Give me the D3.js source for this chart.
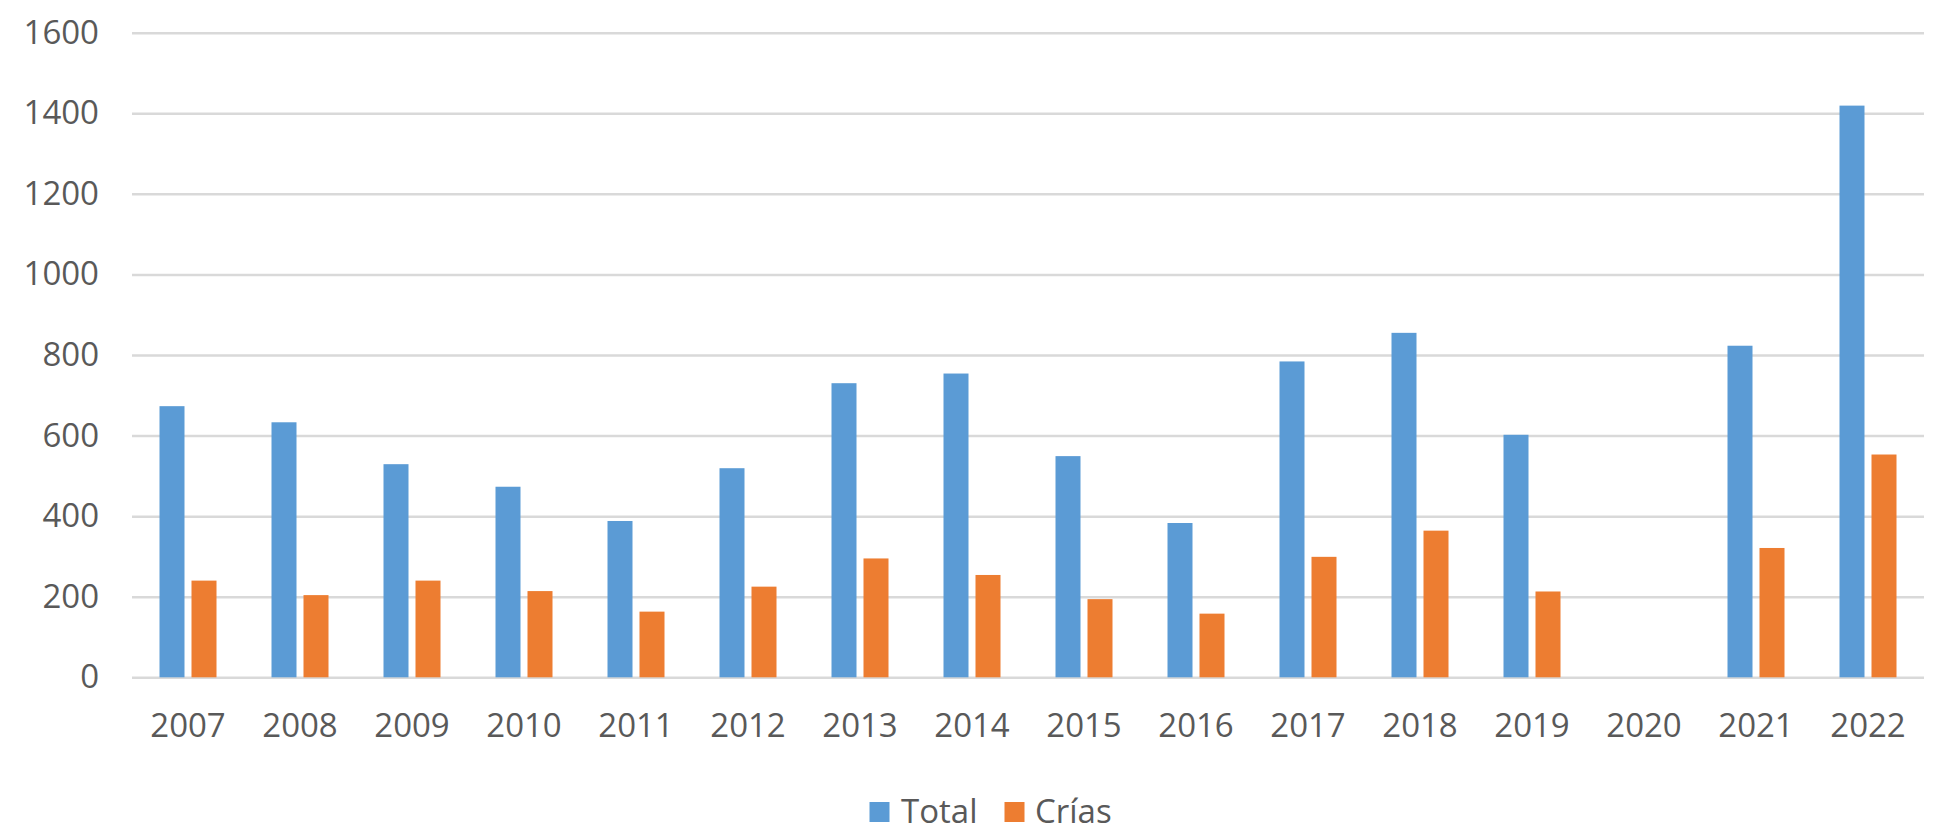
<!DOCTYPE html>
<html>
<head>
<meta charset="utf-8">
<script src="https://cdn.jsdelivr.net/npm/d3@7"></script>
<style>
  html, body { margin: 0; padding: 0; background: #ffffff; }
  svg { display: block; }
  text { font-family: "Open Sans", "Liberation Sans", sans-serif; fill: #595959; }
</style>
</head>
<body>
<svg id="chart" width="1934" height="833"></svg>
<script>
const categories = ["2007","2008","2009","2010","2011","2012","2013","2014","2015","2016","2017","2018","2019","2020","2021","2022"];
const totalValues = [673, 633, 529, 473, 388, 519, 730, 754, 549, 383, 784, 855, 602, 0, 823, 1419];
const criasValues = [240, 204, 240, 214, 163, 225, 295, 254, 194, 158, 299, 364, 213, 0, 321, 553];
const seriesNames = ["Total", "Crías"];
const seriesColors = ["#5B9BD5", "#ED7D31"];
const yTicks = [0, 200, 400, 600, 800, 1000, 1200, 1400, 1600];

const svg = d3.select("#chart");
const plot = { left: 132, right: 1924, top: 32.7, bottom: 677.3 };

const y = d3.scaleLinear().domain([0, 1600]).range([plot.bottom, plot.top]);
const x0 = d3.scaleBand().domain(categories).range([plot.left, plot.right]).paddingInner(0).paddingOuter(0);
const x1 = d3.scaleBand().domain(seriesNames).range([27.5, 84.5]).paddingInner(7/32).paddingOuter(0);

// gridlines + y labels
const yAxis = d3.axisLeft(y).tickValues(yTicks).tickFormat(d3.format("d"))
  .tickSize(-(plot.right - plot.left)).tickPadding(33);
const gy = svg.append("g").attr("transform", `translate(${plot.left},0)`).call(yAxis);
gy.select(".domain").remove();
gy.selectAll(".tick line").attr("stroke", "#d9d9d9").attr("stroke-width", 2.5);
gy.selectAll(".tick text").attr("font-size", 33).attr("fill", "#595959")
  .style("font-family", '"Open Sans", sans-serif');

// bars
const data = categories.map((c, i) => ({ cat: c, vals: [totalValues[i], criasValues[i]] }));
const groups = svg.append("g").selectAll("g").data(data).join("g")
  .attr("transform", d => `translate(${x0(d.cat)},0)`);
groups.selectAll("rect").data(d => d.vals.map((v, j) => ({ name: seriesNames[j], v, j })))
  .join("rect")
  .attr("x", d => x1(d.name))
  .attr("width", x1.bandwidth())
  .attr("y", d => y(d.v))
  .attr("height", d => y(0) - y(d.v))
  .attr("fill", d => seriesColors[d.j]);

// x axis labels
const xAxis = d3.axisBottom(x0).tickSize(0).tickPadding(36);
const gx = svg.append("g").attr("transform", `translate(0,${plot.bottom})`).call(xAxis);
gx.select(".domain").remove();
gx.selectAll(".tick text").attr("font-size", 33).attr("fill", "#595959")
  .style("font-family", '"Open Sans", sans-serif');

// legend
const legendItems = [
  { name: seriesNames[0], color: seriesColors[0], sx: 869.5, tx: 901 },
  { name: seriesNames[1], color: seriesColors[1], sx: 1004.5, tx: 1035 }
];
const lg = svg.append("g");
legendItems.forEach(it => {
  lg.append("rect").attr("x", it.sx).attr("y", 802).attr("width", 20).attr("height", 20).attr("fill", it.color);
  lg.append("text").attr("x", it.tx).attr("y", 823).attr("font-size", 33).text(it.name);
});
</script>
</body>
</html>
